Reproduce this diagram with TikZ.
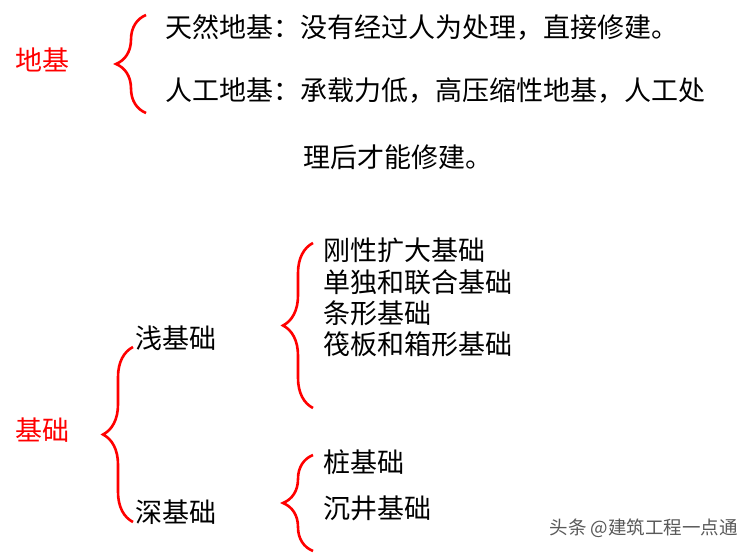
\documentclass[tikz,border=0pt]{standalone}
\usepackage{fontspec}
\setmainfont{Noto Sans CJK SC}
\usetikzlibrary{decorations.pathreplacing}
\tikzset{
	wenzi/.style = {anchor=west, inner sep=0pt, font=\fontsize{27pt}{31pt}\selectfont},% black text
	hongzi/.style = {wenzi, anchor=center, red},% red title
	kuohao/.style = {draw=red, line width=2.6pt, decorate,
		decoration={brace, amplitude=30pt, aspect=0.5}},% red brace
	shuiyin/.style = {anchor=east, inner sep=0pt, gray!70!black,
		font=\fontsize{18.5pt}{20pt}\selectfont}% watermark
}
\begin{document}
\begin{tikzpicture}[x=1pt,y=-1pt]
	\useasboundingbox (0,0) rectangle (754,554);
	% diji
	\node [hongzi] (diji) at (43,60) {地基};
	\coordinate (dj_t) at (146,15);
	\coordinate (dj_b) at (146,113);
	\draw [kuohao] (dj_b) -- (dj_t);
	\node [wenzi] (tianran) at (165,27) {天然地基：没有经过人为处理，直接修建。};
	\node [wenzi] (rengong) at (165,91) {人工地基：承载力低，高压缩性地基，人工处};
	\node [wenzi] (rengong2) at (303,157) {理后才能修建。};
	% jichu
	\node [hongzi] (jichu) at (43,430) {基础};
	\coordinate (jc_t) at (133,347);
	\coordinate (jc_b) at (133,522);
	\draw [kuohao] (jc_b) -- (jc_t);
	\node [wenzi] (qian) at (135,338) {浅基础};
	\node [wenzi] (shen) at (135,512) {深基础};
	% qian jichu
	\coordinate (qj_t) at (313,243);
	\coordinate (qj_b) at (313,408);
	\draw [kuohao] (qj_b) -- (qj_t);
	\node [wenzi] (gangxing) at (323,250) {刚性扩大基础};
	\node [wenzi] (dandu) at (323,282) {单独和联合基础};
	\node [wenzi] (tiaoxing) at (323,313) {条形基础};
	\node [wenzi] (fabanx) at (323,344) {筏板和箱形基础};
	% shen jichu
	\coordinate (sj_t) at (313,455);
	\coordinate (sj_b) at (313,551);
	\draw [kuohao] (sj_b) -- (sj_t);
	\node [wenzi] (zhuang) at (323,462) {桩基础};
	\node [wenzi] (chenjing) at (323,508) {沉井基础};
	% shuiyin
	\node [shuiyin] (toutiao) at (738,528) {头条 @建筑工程一点通};
\end{tikzpicture}
\end{document}
